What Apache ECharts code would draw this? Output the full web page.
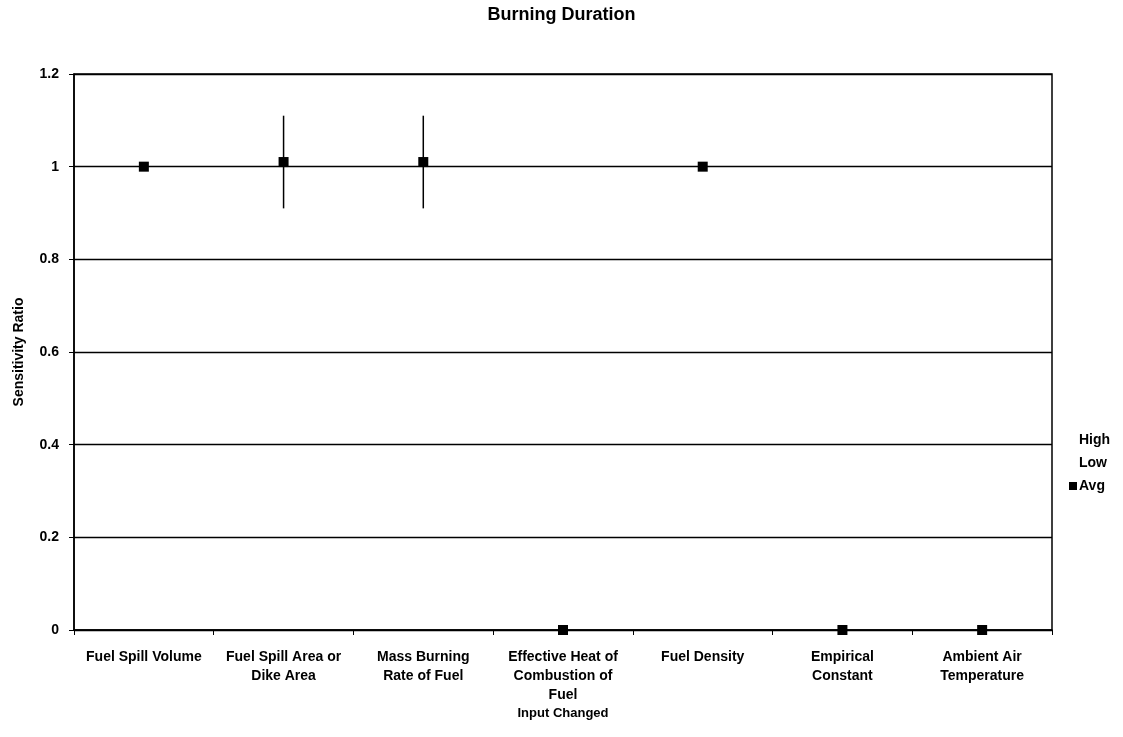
<!DOCTYPE html>
<html>
<head>
<meta charset="utf-8">
<script src="https://cdn.jsdelivr.net/npm/echarts@6/dist/echarts.min.js"></script>
<style>
  html, body { margin: 0; padding: 0; background: #fff; }
  #chart { width: 1123px; height: 737px; }
</style>
</head>
<body>
<div id="chart"></div>
<script>
// Inputs varied in the sensitivity study (line breaks as printed under the axis)
const categories = [
  'Fuel Spill Volume',
  'Fuel Spill Area or\nDike Area',
  'Mass Burning\nRate of Fuel',
  'Effective Heat of\nCombustion of\nFuel',
  'Fuel Density',
  'Empirical\nConstant',
  'Ambient Air\nTemperature'
];
// Sensitivity ratios for burning duration
const highValues = [1, 1.11, 1.11, 0, 1, 0, 0];
const lowValues  = [1, 0.91, 0.91, 0, 1, 0, 0];
const avgValues  = [1, 1.01, 1.01, 0, 1, 0, 0];
const yTicks = [0, 0.2, 0.4, 0.6, 0.8, 1, 1.2];

const FONT = '"Liberation Sans", Arial, sans-serif';
const chart = echarts.init(document.getElementById('chart'), null, { renderer: 'canvas' });

chart.setOption({
  animation: false,
  backgroundColor: '#fff',
  textStyle: { fontFamily: FONT, color: '#000' },
  title: {
    text: 'Burning Duration',
    left: 'center',
    top: 1,
    textStyle: { fontFamily: FONT, fontWeight: 'bold', fontSize: 18, color: '#000' }
  },
  legend: {
    orient: 'vertical',
    left: 1064,
    top: 428,
    itemWidth: 8,
    itemHeight: 8,
    itemGap: 9,
    textStyle: { fontFamily: FONT, fontWeight: 'bold', fontSize: 14, color: '#000', padding: [0, 0, 0, -3] },
    data: [
      { name: 'High', icon: 'none' },
      { name: 'Low', icon: 'none' },
      { name: 'Avg', icon: 'rect' }
    ]
  },
  grid: {
    left: 74, right: 71, top: 74, bottom: 107,
    show: true, borderColor: '#000', borderWidth: 1.5, backgroundColor: 'transparent'
  },
  xAxis: {
    type: 'category',
    data: categories,
    boundaryGap: true,
    name: 'Input Changed',
    nameLocation: 'middle',
    nameGap: 77,
    nameMoveOverlap: false,
    nameTextStyle: { fontFamily: FONT, fontWeight: 'bold', fontSize: 13, color: '#000' },
    axisLine: { lineStyle: { color: '#000', width: 1.5 } },
    axisTick: { show: true, alignWithLabel: false, length: 5, lineStyle: { color: '#000', width: 1 } },
    axisLabel: {
      interval: 0, margin: 18,
      fontFamily: FONT, fontWeight: 'bold', fontSize: 14, color: '#000', lineHeight: 19, align: 'center'
    },
    splitLine: { show: false }
  },
  yAxis: {
    type: 'value',
    min: 0, max: 1.2, interval: 0.2,
    name: 'Sensitivity Ratio',
    nameLocation: 'middle',
    nameGap: 48,
    nameRotate: 90,
    nameTextStyle: { fontFamily: FONT, fontWeight: 'bold', fontSize: 14, color: '#000' },
    axisLine: { show: true, lineStyle: { color: '#000', width: 1.5 } },
    axisTick: { show: true, length: 5, lineStyle: { color: '#000', width: 1 } },
    axisLabel: {
      margin: 15,
      fontFamily: FONT, fontWeight: 'bold', fontSize: 14, color: '#000',
      formatter: v => {
        const t = yTicks.find(k => Math.abs(k - v) < 1e-9);
        return t === undefined ? '' : String(t);
      }
    },
    splitLine: { show: true, lineStyle: { color: '#000', width: 1.4 } }
  },
  series: [
    {
      // vertical high-low range bars
      name: 'range',
      type: 'custom',
      z: 3,
      data: categories.map((c, i) => [i, lowValues[i], highValues[i]]),
      renderItem: (params, api) => {
        const lo = api.coord([api.value(0), api.value(1)]);
        const hi = api.coord([api.value(0), api.value(2)]);
        return {
          type: 'line',
          shape: { x1: lo[0], y1: lo[1], x2: hi[0], y2: hi[1] },
          style: { stroke: '#000', lineWidth: 1.5 }
        };
      },
      encode: { x: 0, y: [1, 2] },
      silent: true
    },
    {
      name: 'High', type: 'line', data: highValues,
      symbol: 'none', lineStyle: { width: 0, opacity: 0 }, itemStyle: { color: '#000' }, silent: true
    },
    {
      name: 'Low', type: 'line', data: lowValues,
      symbol: 'none', lineStyle: { width: 0, opacity: 0 }, itemStyle: { color: '#000' }, silent: true
    },
    {
      name: 'Avg', type: 'line', data: avgValues,
      symbol: 'rect', symbolSize: 10, z: 5,
      lineStyle: { width: 0, opacity: 0 }, itemStyle: { color: '#000' }, silent: true
    }
  ]
});
</script>
</body>
</html>
